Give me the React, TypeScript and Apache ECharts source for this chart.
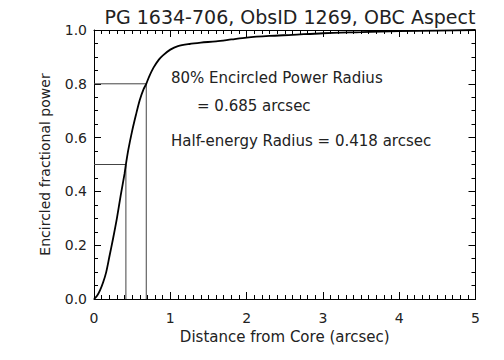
import React, { useEffect, useRef } from "react";
import * as echarts from "echarts";

const radius = [0, 0.04, 0.08, 0.12, 0.16, 0.2, 0.25, 0.3, 0.35, 0.4, 0.418, 0.45, 0.5, 0.55, 0.6, 0.65, 0.685, 0.72, 0.78, 0.85, 0.9, 1.0, 1.1, 1.25, 1.4, 1.6, 1.8, 2.0, 2.3, 2.6, 3.0, 3.5, 4.0, 4.5, 5.0];
const fraction = [0, 0.012, 0.033, 0.062, 0.1, 0.155, 0.225, 0.3, 0.385, 0.465, 0.5, 0.555, 0.625, 0.685, 0.74, 0.78, 0.8, 0.825, 0.86, 0.89, 0.905, 0.927, 0.94, 0.948, 0.953, 0.958, 0.965, 0.972, 0.978, 0.982, 0.988, 0.992, 0.996, 0.998, 1.0];

const halfRadius = 0.418;
const halfLevel = 0.5;
const eightyRadius = 0.685;
const eightyLevel = 0.8;

const xTicks = [0, 1, 2, 3, 4, 5];
const yTicks = [0, 0.2, 0.4, 0.6, 0.8, 1.0];

const title = "PG 1634-706, ObsID 1269, OBC Aspect";
const xName = "Distance from Core (arcsec)";
const yName = "Encircled fractional power";
const note1 = "80% Encircled Power Radius";
const note2 = "= 0.685 arcsec";
const note3 = "Half-energy Radius = 0.418 arcsec";

const FONT = "DejaVu Sans";
const INK = "#222222";

export default function App() {
  const ref = useRef<HTMLDivElement>(null);
  useEffect(() => {
    document.body.style.margin = "0";
    const chart = echarts.init(ref.current!, null, { renderer: "svg" });
    const xMin = xTicks[0], xMax = xTicks[xTicks.length - 1];
    const yMin = yTicks[0], yMax = yTicks[yTicks.length - 1];
    const mk = (minorSplit: number) => ({
      axisLine: { show: true, onZero: false, lineStyle: { color: "#000", width: 1 } },
      splitLine: { show: false },
      axisTick: { show: true, inside: true, length: 7, lineStyle: { color: "#000", width: 1 } },
      minorTick: { show: true, splitNumber: minorSplit, length: 4, lineStyle: { color: "#000", width: 1 } },
    });
    const labelFont = { fontFamily: FONT, fontSize: 14, color: INK };
    chart.setOption({
      animation: false,
      title: {
        text: title,
        left: 285,
        textAlign: "center",
        top: 2,
        textStyle: { fontFamily: FONT, fontSize: 19, fontWeight: "normal", color: INK },
      },
      grid: { left: 94, right: 28.5, top: 30, bottom: 61 },
      xAxis: [
        {
          type: "value",
          min: xMin,
          max: xMax,
          interval: 1,
          position: "bottom",
          ...mk(10),
          name: xName,
          nameLocation: "middle",
          nameGap: 29,
          nameTextStyle: { fontFamily: FONT, fontSize: 15, color: INK },
          axisLabel: { show: true, margin: 12, ...labelFont },
        },
        {
          type: "value",
          min: xMin,
          max: xMax,
          interval: 1,
          position: "top",
          ...mk(10),
          axisLabel: { show: false },
        },
      ],
      yAxis: [
        {
          type: "value",
          min: yMin,
          max: yMax,
          interval: 0.2,
          position: "left",
          ...mk(4),
          name: yName,
          nameLocation: "middle",
          nameGap: 42,
          nameTextStyle: { fontFamily: FONT, fontSize: 14, color: INK },
          axisLabel: { show: true, margin: 7, ...labelFont, formatter: (v: number) => v.toFixed(1) },
        },
        {
          type: "value",
          min: yMin,
          max: yMax,
          interval: 0.2,
          position: "right",
          ...mk(4),
          axisLabel: { show: false },
        },
      ],
      series: [
        {
          type: "line",
          data: [[0, eightyLevel], [eightyRadius, eightyLevel], [eightyRadius, 0]],
          showSymbol: false,
          lineStyle: { color: "#444", width: 1 },
          silent: true,
        },
        {
          type: "line",
          data: [[0, halfLevel], [halfRadius, halfLevel], [halfRadius, 0]],
          showSymbol: false,
          lineStyle: { color: "#444", width: 1 },
          silent: true,
        },
        {
          type: "line",
          data: radius.map((r, i) => [r, fraction[i]]),
          showSymbol: false,
          smooth: 0.3,
          lineStyle: { color: "#000", width: 1.8 },
        },
      ],
      graphic: [
        {
          type: "text",
          left: 171,
          top: 70,
          style: { text: note1, fontFamily: FONT, fontSize: 15, fill: INK },
        },
        {
          type: "text",
          left: 197,
          top: 98,
          style: { text: note2, fontFamily: FONT, fontSize: 15, fill: INK },
        },
        {
          type: "text",
          left: 171,
          top: 133,
          style: { text: note3, fontFamily: FONT, fontSize: 15, fill: INK },
        },
      ],
    });
    return () => chart.dispose();
  }, []);
  return (
    <div
      ref={ref}
      style={{ position: "absolute", left: 0, top: 0, width: 504, height: 360, background: "#fff" }}
    />
  );
}
